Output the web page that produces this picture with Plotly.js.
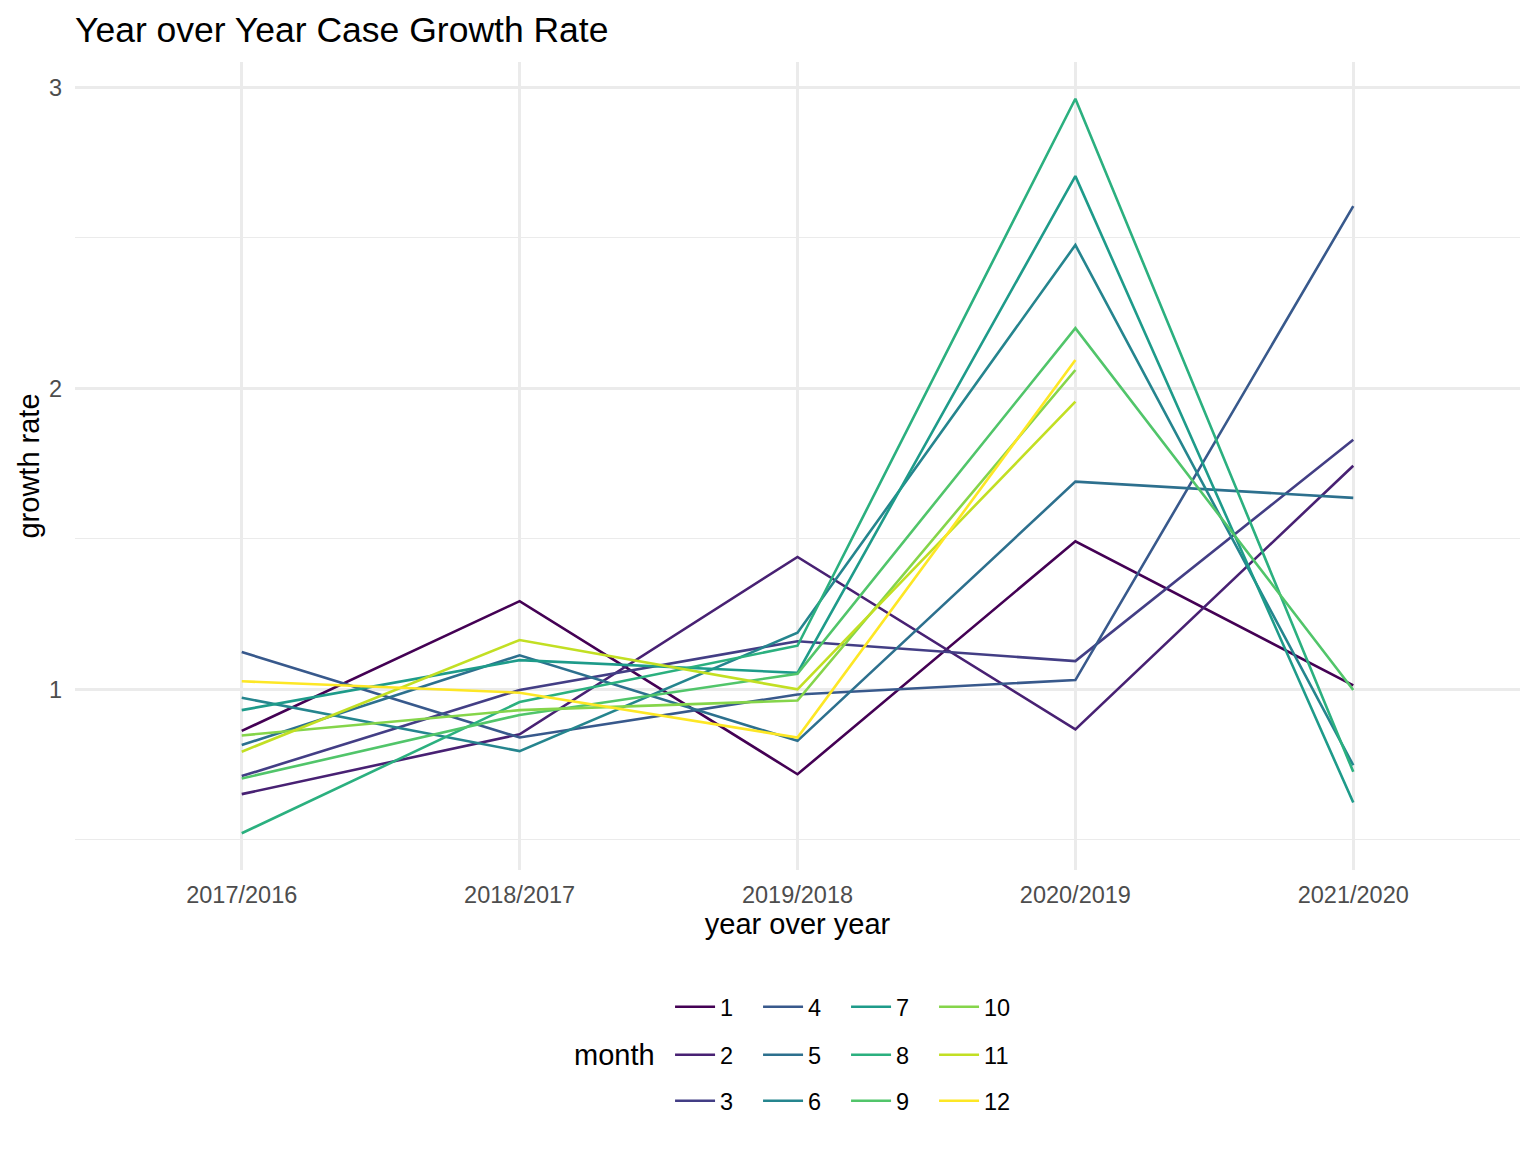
<!DOCTYPE html>
<html>
<head>
<meta charset="utf-8">
<script src="https://cdn.plot.ly/plotly-3.0.1.min.js"></script>
<style>html,body{margin:0;padding:0;background:#fff;}#chart{width:1536px;height:1152px;}</style>
</head>
<body>
<div id="chart"></div>
<script>
const periods = ["2017/2016", "2018/2017", "2019/2018", "2020/2019", "2021/2020"];
const months = ["1","2","3","4","5","6","7","8","9","10","11","12"];
const colors = ["#440154","#482173","#433E85","#38598C","#2D708E","#25858E","#1E9B8A","#2BB07F","#51C56A","#85D54A","#C2DF23","#FDE725"];

const m1  = [0.862, 1.293, 0.718, 1.492, 1.013];
const m2  = [0.652, 0.851, 1.440, 0.867, 1.743];
const m3  = [0.712, 0.998, 1.160, 1.094, 1.829];
const m4  = [1.124, 0.840, 0.983, 1.031, 2.605];
const m5  = [0.815, 1.113, 0.829, 1.690, 1.636];
const m6  = [0.972, 0.795, 1.188, 2.476, 0.748];
const m7  = [0.931, 1.097, 1.055, 2.705, 0.624];
const m8  = [0.522, 0.958, 1.145, 2.962, 0.726];
const m9  = [0.704, 0.915, 1.052, 2.200, 0.998];
const m10 = [0.847, 0.931, 0.963, 2.061];
const m11 = [0.793, 1.164, 1.000, 1.956];
const m12 = [1.027, 0.989, 0.840, 2.094];

const series = [m1,m2,m3,m4,m5,m6,m7,m8,m9,m10,m11,m12];

const FONT = "'Liberation Sans', Arial, Helvetica, sans-serif";

const traces = series.map((vals, i) => ({
  type: 'scatter',
  mode: 'lines',
  x: periods.slice(0, vals.length),
  y: vals,
  name: months[i],
  line: {color: colors[i], width: 2.6},
  legend: i % 3 === 0 ? 'legend' : (i % 3 === 1 ? 'legend2' : 'legend3'),
  hoverinfo: 'x+y+name'
}));

function legendCfg(yv) {
  return {
    orientation: 'h',
    x: 0.4118, xanchor: 'left',
    y: yv, yanchor: 'middle',
    xref: 'paper', yref: 'paper',
    font: {family: FONT, size: 23.5, color: '#000'},
    entrywidth: 33, entrywidthmode: 'pixels',
    itemwidth: 40,
    bgcolor: 'rgba(0,0,0,0)',
    traceorder: 'normal'
  };
}

const layout = {
  width: 1536, height: 1152,
  paper_bgcolor: '#fff', plot_bgcolor: '#fff',
  margin: {l: 75, r: 16, t: 62, b: 282},
  font: {family: FONT, color: '#000'},
  title: {
    text: 'Year over Year Case Growth Rate',
    font: {family: FONT, size: 35.5, color: '#000'},
    x: 75/1536, xanchor: 'left', xref: 'container',
    y: 1 - 30/1152, yanchor: 'middle', yref: 'container'
  },
  xaxis: {
    type: 'category',
    categoryorder: 'array', categoryarray: periods,
    range: [-0.6, 4.6],
    showgrid: true, gridcolor: '#ebebeb', gridwidth: 2.8,
    zeroline: false, showline: false, ticks: '',
    ticklabelstandoff: 8,
    tickfont: {family: FONT, size: 23.5, color: '#4d4d4d'},
    title: {text: 'year over year', font: {family: FONT, size: 29, color: '#000'}, standoff: 7}
  },
  yaxis: {
    range: [0.400, 3.084],
    tickvals: [1, 2, 3], ticktext: ['1', '2', '3'],
    showgrid: true, gridcolor: '#ebebeb', gridwidth: 2.8,
    minor: {tickvals: [0.5, 1.5, 2.5], showgrid: true, gridcolor: '#ebebeb', gridwidth: 1.4, ticks: ''},
    zeroline: false, showline: false, ticks: '',
    ticklabelstandoff: 12,
    tickfont: {family: FONT, size: 23.5, color: '#4d4d4d'},
    title: {text: 'growth rate', font: {family: FONT, size: 29, color: '#000'}, standoff: 0}
  },
  showlegend: true,
  legend: legendCfg((870 - 1007) / 808),
  legend2: legendCfg((870 - 1055) / 808),
  legend3: legendCfg((870 - 1101) / 808),
  annotations: [{
    text: 'month', xref: 'paper', yref: 'paper',
    x: (657 - 75) / 1445, xanchor: 'right',
    y: (870 - 1055) / 808, yanchor: 'middle',
    showarrow: false,
    font: {family: FONT, size: 29, color: '#000'}
  }]
};

Plotly.newPlot('chart', traces, layout, {displayModeBar: false, responsive: false});
</script>
</body>
</html>
